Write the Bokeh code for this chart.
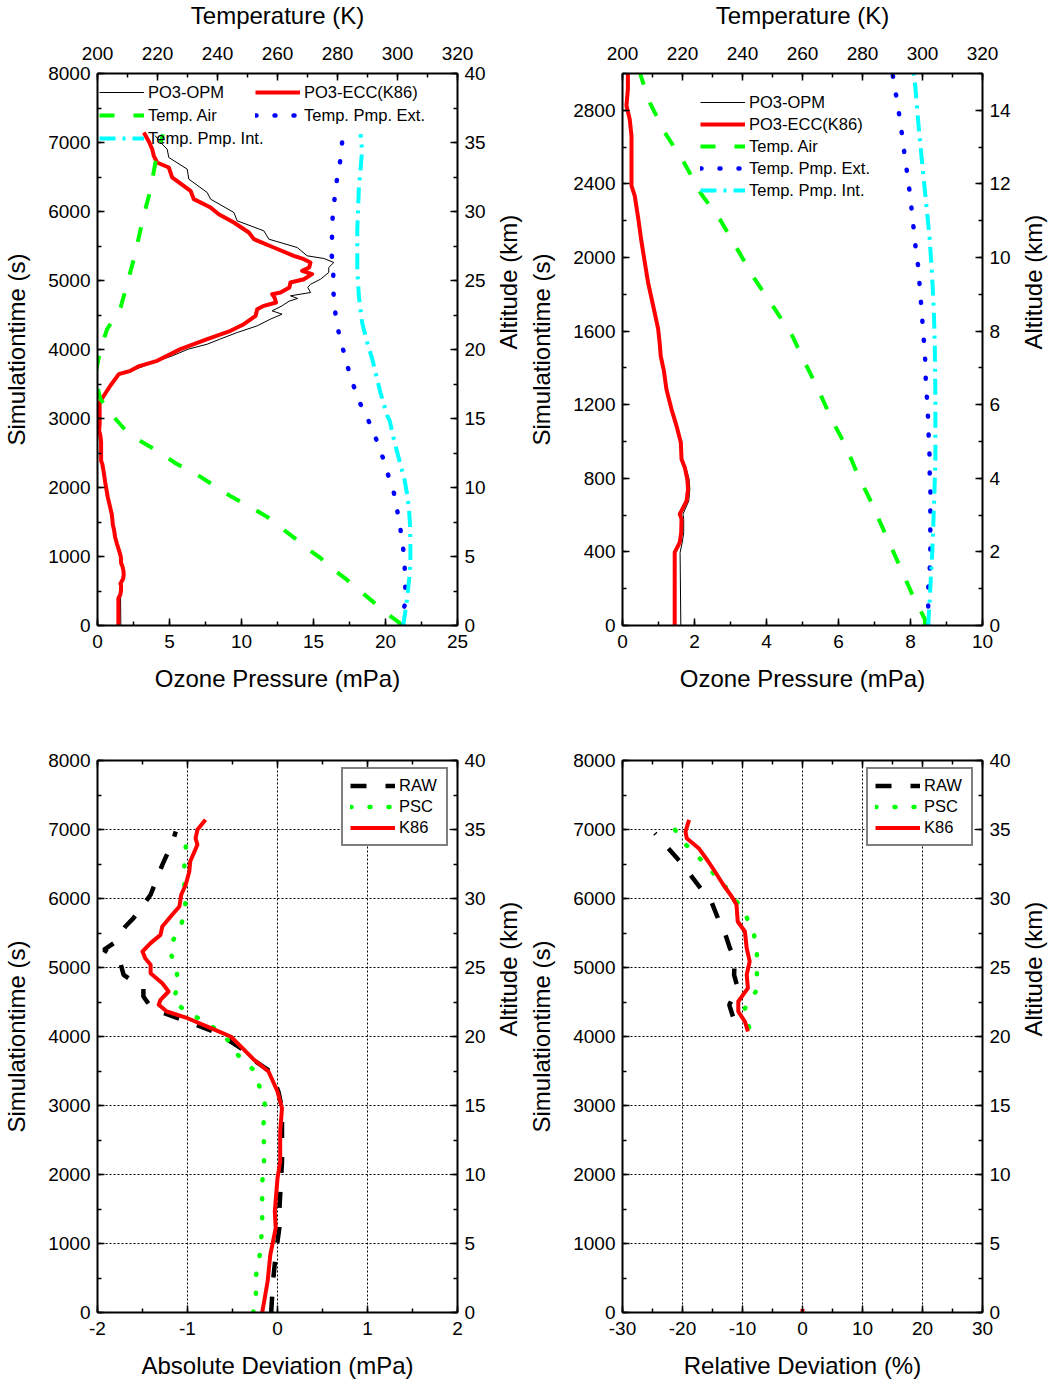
import math
import numpy as np
from bokeh.plotting import figure
from bokeh.models import (Range1d, LinearAxis, SingleIntervalTicker, Legend,
                          LegendItem, CustomJSTickFormatter)
from bokeh.layouts import column, row
from bokeh.embed import file_html
from bokeh.resources import INLINE

FONT = "Liberation Sans"
nan = float("nan")

# ---------------- ozone partial pressure (simulation time s, mPa) ----------------
ecc_time = [0, 397, 451, 505, 578, 605, 677, 741, 795, 859, 904, 995, 1085, 1176, 1284,
            1384, 1466, 1520, 1612, 1739, 1864, 1973, 2082, 2209, 2335, 2390, 2516, 2661,
            2752, 2825, 2915, 3000, 3232, 3329, 3478, 3643, 3691, 3760, 3836, 4005, 4150,
            4271, 4367, 4488, 4584, 4633, 4681, 4750, 4801, 4826, 4899, 4971, 5019, 5092,
            5140, 5188, 5261, 5309, 5358, 5478, 5599, 5696, 5841, 5961, 6058, 6179, 6300,
            6493, 6638, 6710, 6807, 6903, 7000, 7145]
ecc_o3 = [1.45, 1.45, 1.59, 1.63, 1.64, 1.59, 1.78, 1.82, 1.80, 1.73, 1.64, 1.62, 1.50, 1.36,
          1.22, 1.15, 1.06, 1.04, 0.99, 0.85, 0.71, 0.62, 0.53, 0.44, 0.34, 0.25, 0.25, 0.25,
          0.20, 0.11, 0.15, 0.15, 0.15, 0.44, 0.90, 1.48, 2.29, 2.90, 4.14, 5.76, 7.62, 9.24,
          10.16, 10.98, 11.09, 11.55, 12.40, 12.30, 12.13, 12.71, 13.33, 13.40, 14.33, 14.90,
          14.21, 14.70, 14.79, 14.33, 13.63, 12.24, 10.86, 10.51, 9.47, 8.42, 7.85, 6.69, 6.46,
          5.18, 4.95, 4.14, 3.91, 3.80, 3.60, 3.22]

opm_time = [0, 397, 451, 505, 578, 605, 677, 741, 795, 859, 904, 995, 1085, 1176, 1284,
            1384, 1466, 1520, 1612, 1739, 1864, 1973, 2082, 2209, 2335, 2390, 2516, 2661,
            2752, 2825, 2915, 3000, 3232, 3329, 3478, 3643, 3691, 3836, 3908, 4005, 4077,
            4150, 4246, 4343, 4440, 4512, 4560, 4633, 4700, 4740, 4778, 4826, 4900, 4946,
            5019, 5116, 5188, 5261, 5319, 5358, 5478, 5599, 5720, 5865, 5986, 6179, 6275,
            6469, 6614, 6783, 6903, 6976, 7100]
opm_o3 = [1.62, 1.60, 1.66, 1.70, 1.70, 1.68, 1.84, 1.87, 1.85, 1.76, 1.66, 1.63, 1.51, 1.37,
          1.23, 1.16, 1.07, 1.05, 1.00, 0.86, 0.72, 0.63, 0.54, 0.45, 0.35, 0.26, 0.26, 0.26,
          0.21, 0.12, 0.16, 0.16, 0.16, 0.45, 0.91, 1.52, 2.35, 4.20, 5.20, 6.30, 7.62, 8.50,
          9.70, 11.09, 12.01, 12.82, 12.13, 12.82, 13.30, 13.90, 13.40, 14.80, 14.60, 14.80,
          15.49, 16.06, 16.06, 16.41, 15.72, 14.56, 13.87, 11.90, 11.55, 9.70, 9.47, 7.85,
          7.62, 6.34, 6.23, 4.95, 4.84, 4.49, 4.00]

# ---------------- temperatures (simulation time s, K) ----------------
air_time = [0, 34, 179, 342, 505, 668, 813, 976, 1121, 1284, 1429, 1574, 1719, 1882, 2036,
            2209, 2344, 2525, 2679, 2842, 2978, 3280, 3449, 3550, 3700, 3900, 4150, 4294,
            4609, 4778, 5309, 5938, 6324, 6710, 7120]
air_temp = [300.8, 300.8, 296.3, 291.9, 287.4, 283.0, 278.6, 274.4, 269.7, 265.2, 260.8,
            256.6, 250.8, 244.1, 238.6, 232.4, 226.3, 220.2, 214.1, 209.1, 206.3, 201.0,
            200.0, 199.5, 199.6, 200.5, 202.1, 203.2, 207.7, 208.8, 212.1, 215.4, 217.7,
            219.3, 221.8]

ext_time = [0, 96, 197, 299, 397, 500, 603, 705, 806, 908, 1009, 1112, 1212, 1315, 1416,
            1516, 1620, 1719, 1822, 1924, 2027, 2130, 2230, 2332, 2435, 2535, 2638, 2738,
            2840, 2943, 3232, 3507, 3778, 4043, 4319, 4584, 4860, 5130, 5406, 5671, 5946,
            6217, 6493, 6758, 7033]
ext_temp = [301.9, 301.9, 301.9, 302.4, 302.6, 302.6, 302.6, 302.7, 302.4, 302.4, 302.1,
            301.9, 301.6, 301.1, 301.0, 300.6, 300.1, 299.7, 299.1, 298.8, 297.9, 297.2,
            296.6, 295.9, 295.1, 294.2, 293.4, 292.6, 291.6, 290.6, 287.4, 285.1, 283.2,
            281.6, 280.0, 279.1, 278.6, 278.6, 278.0, 278.2, 278.4, 279.1, 279.9, 281.0,
            281.6]

int_time = [0, 143, 415, 686, 904, 1230, 1520, 1701, 1901, 2100, 2281, 2462, 2643, 2788,
            2969, 3039, 3377, 3860, 4101, 4391, 4778, 5164, 5744, 6324, 6879, 7121]
int_temp = [301.9, 302.4, 303.3, 303.9, 304.3, 304.3, 304.1, 303.8, 303.2, 302.4, 301.3,
            300.2, 299.1, 298.3, 297.4, 296.6, 294.3, 291.6, 289.9, 288.2, 287.1, 286.6,
            286.6, 287.1, 288.2, 287.7]

# ---------------- absolute deviation from OPM (mPa) ----------------
raw_abs_time = [0, 449, 836, 1222, 1464, 1946, 2188, 2623, 2961, 3203, 3493, 3662, 3807,
                3975, 4072, 4217, 4338, 4387, 4450, 4580, 4700, 4780, 4894, 5039, 5150, 5256,
                5353, 5594, 5715, 6054, 6488, 6802, 6971]
raw_abs = [-0.07, -0.05, -0.02, 0.02, 0.02, 0.04, 0.05, 0.05, 0.05, 0.01, -0.08, -0.27,
           -0.38, -0.58, -0.71, -1.00, -1.26, -1.37, -1.42, -1.49, -1.49, -1.58, -1.71,
           -1.74, -1.80, -1.93, -1.82, -1.69, -1.60, -1.41, -1.28, -1.17, -1.13]

psc_abs_time = [0, 265, 532, 802, 1077, 1343, 1619, 1884, 2155, 2430, 2696, 2971, 3236,
                3507, 3758, 4000, 4207, 4338, 4517, 4764, 5014, 5280, 5532, 5797, 6068, 6343,
                6609, 6884, 7000]
psc_abs = [-0.27, -0.24, -0.24, -0.20, -0.18, -0.17, -0.17, -0.17, -0.15, -0.15, -0.16,
           -0.13, -0.19, -0.26, -0.46, -0.58, -0.79, -0.99, -1.16, -1.10, -1.13, -1.21,
           -1.10, -1.02, -1.03, -1.04, -1.03, -1.01, -1.00]

k86_abs_time = [0, 449, 836, 1222, 1464, 1946, 2188, 2623, 2961, 3203, 3493, 3662, 3807,
                4000, 4120, 4265, 4362, 4459, 4532, 4652, 4772, 4918, 5039, 5135, 5232, 5353,
                5473, 5594, 5764, 5884, 6054, 6199, 6391, 6536, 6778, 6874, 6995, 7140]
k86_abs = [-0.17, -0.11, -0.08, -0.02, -0.03, 0.00, 0.03, 0.03, 0.05, 0.00, -0.10, -0.26,
           -0.37, -0.52, -0.74, -1.00, -1.23, -1.32, -1.30, -1.21, -1.28, -1.41, -1.41,
           -1.47, -1.50, -1.41, -1.30, -1.28, -1.17, -1.09, -1.07, -1.02, -0.98, -0.97,
           -0.89, -0.91, -0.89, -0.80]

# ---------------- relative deviation from OPM (%) ----------------
raw_rel_time = [4290, 4459, 4700, 4894, 5135, 5280, 5570, 5715, 5957, 6126, 6391, 6536,
                6778, 6947]
raw_rel = [-11.6, -12.2, -10.8, -11.4, -11.3, -12.1, -13.2, -14.1, -15.2, -16.8, -19.1,
           -20.4, -22.9, -24.6]

psc_rel_time = [4135, 4406, 4677, 4952, 5217, 5488, 5764, 6029, 6304, 6570, 6802, 7053]
psc_rel = [-8.9, -9.6, -7.6, -7.6, -7.6, -8.1, -9.5, -11.5, -14.2, -17.0, -19.7, -21.7]

k86_rel_time = [0, 50, nan, 4072, 4217, 4362, 4507, 4700, 4894, 5087, 5280, 5522, 5667,
                5908, 6029, 6199, 6391, 6536, 6729, 6874, 6971, 7140]
k86_rel = [0.0, 0.0, nan, -9.1, -9.6, -10.7, -10.7, -9.1, -9.3, -8.8, -9.3, -9.6, -10.8,
           -11.0, -11.8, -13.2, -14.6, -15.7, -17.3, -19.3, -19.5, -18.9]

RED, GREEN, BLUE, CYAN, BLACK = "#ff0000", "#00ff00", "#0000ff", "#00ffff", "#000000"


def style_axis(ax, step, standoff, labels=True):
    ax.ticker = SingleIntervalTicker(interval=step, num_minor_ticks=2)
    ax.axis_line_width = 2
    ax.axis_line_color = BLACK
    ax.major_tick_in = 7
    ax.major_tick_out = 0
    ax.minor_tick_in = 4
    ax.minor_tick_out = 0
    ax.major_tick_line_width = 1.5
    ax.minor_tick_line_width = 1.5
    ax.major_tick_line_color = BLACK
    ax.minor_tick_line_color = BLACK
    ax.major_label_text_font = FONT
    ax.major_label_text_font_size = "19px"
    ax.major_label_text_color = BLACK
    ax.major_label_standoff = standoff
    # plain hyphen-minus for negative tick values
    ax.formatter = CustomJSTickFormatter(
        code="return tick.toFixed(0)" if labels else "return ''")
    return ax.ticker


def set_title(ax, text, standoff, flip=False):
    ax.axis_label = text
    ax.axis_label_text_font = FONT
    ax.axis_label_text_font_size = "24px"
    ax.axis_label_text_font_style = "normal"
    ax.axis_label_text_color = BLACK
    ax.axis_label_standoff = standoff
    if flip and "axis_label_orientation" in ax.properties():
        # read from bottom to top, like the left-hand title
        ax.axis_label_orientation = math.pi / 2


def make_panel(xr, yr, x_step, y_step, alt_max, alt_step, top_range=None, top_step=None,
               width=545, height=700, border_top=73, border_bottom=75, border_right=88,
               grid=False):
    p = figure(width=width, height=height, x_range=Range1d(*xr), y_range=Range1d(*yr),
               output_backend="svg", toolbar_location=None, tools="",
               min_border_left=97, min_border_right=border_right,
               min_border_top=border_top, min_border_bottom=border_bottom)
    p.outline_line_color = None
    p.background_fill_color = "white"
    p.border_fill_color = "white"

    p.extra_y_ranges = {"alt": Range1d(0, alt_max)}
    right = LinearAxis(y_range_name="alt")
    p.add_layout(right, "right")
    if top_range is not None:
        p.extra_x_ranges = {"temp": Range1d(*top_range)}
        top = LinearAxis(x_range_name="temp")
        p.add_layout(top, "above")
        style_axis(top, top_step, 14)
        set_title(top, "Temperature (K)", 15)
    else:
        top = LinearAxis()
        p.add_layout(top, "above")
        style_axis(top, x_step, 9, labels=False)

    xt = style_axis(p.below[0], x_step, 9)
    yt = style_axis(p.left[0], y_step, 7)
    style_axis(right, alt_step, 7)
    set_title(p.left[0], "Simulationtime (s)", 15)
    set_title(right, "Altitude (km)", 20, flip=True)

    if grid:
        p.xgrid.ticker = xt
        p.ygrid.ticker = yt
        for g in (p.xgrid, p.ygrid):
            g.grid_line_color = BLACK
            g.grid_line_width = 1
            g.grid_line_dash = "2 2"
            g.grid_line_alpha = 1.0
    else:
        p.xgrid.visible = False
        p.ygrid.visible = False
    return p


def style_legend(leg, boxed=False):
    leg.label_text_font = FONT
    leg.label_text_font_size = "16.5px"
    leg.label_text_color = BLACK
    leg.glyph_width = 45
    leg.label_standoff = 4
    leg.margin = 0
    if boxed:
        leg.glyph_height = 19
        leg.label_height = 19
        leg.label_width = 40
        leg.spacing = 2
        leg.padding = 7
        leg.border_line_color = BLACK
        leg.border_line_width = 2
        leg.background_fill_color = "white"
        leg.background_fill_alpha = 1.0
    else:
        leg.glyph_height = 20
        leg.label_height = 20
        leg.spacing = 3
        leg.padding = 0
        leg.border_line_color = None
        leg.background_fill_alpha = 0.0


def draw_profiles(p):
    r_opm = p.line(opm_o3, opm_time, line_color=BLACK, line_width=1)
    r_ecc = p.line(ecc_o3, ecc_time, line_color=RED, line_width=4, line_join="round")
    r_air = p.line(air_temp, air_time, x_range_name="temp", line_color=GREEN,
                   line_width=4, line_dash="15 19")
    r_ext = p.line(ext_temp, ext_time, x_range_name="temp", line_color=BLUE,
                   line_width=4.5, line_dash="1 18", line_cap="round")
    r_int = p.line(int_temp, int_time, x_range_name="temp", line_color=CYAN,
                   line_width=4, line_dash="16 7 3 7")
    return r_opm, r_ecc, r_air, r_ext, r_int


def draw_deviation(p, raw_t, raw_v, psc_t, psc_v, k_t, k_v):
    r_raw = p.line(np.array(raw_v), np.array(raw_t), line_color=BLACK, line_width=4.5,
                   line_dash="16 19")
    r_psc = p.line(np.array(psc_v), np.array(psc_t), line_color=GREEN, line_width=4.5,
                   line_dash="1 18", line_cap="round")
    r_k = p.line(np.array(k_v, dtype=float), np.array(k_t, dtype=float), line_color=RED,
                 line_width=4, line_join="round")
    leg = Legend(items=[LegendItem(label="RAW", renderers=[r_raw]),
                        LegendItem(label="PSC", renderers=[r_psc]),
                        LegendItem(label="K86", renderers=[r_k])],
                 location=(244, 466))
    style_legend(leg, boxed=True)
    p.add_layout(leg)


# ---- upper left: full ascent (its right margin lies under the next panel) ----
p1 = make_panel((0, 25), (0, 8000), 5, 1000, 40, 5, top_range=(200, 320), top_step=20,
                height=707, border_top=80)
set_title(p1.below[0], "Ozone Pressure (mPa)", 14)
r_opm, r_ecc, r_air, r_ext, r_int = draw_profiles(p1)
leg_a = Legend(items=[LegendItem(label="PO3-OPM", renderers=[r_opm]),
                      LegendItem(label="Temp. Air", renderers=[r_air]),
                      LegendItem(label="Temp. Pmp. Int.", renderers=[r_int])],
               location=(2, 477))
leg_b = Legend(items=[LegendItem(label="PO3-ECC(K86)", renderers=[r_ecc]),
                      LegendItem(label="Temp. Pmp. Ext.", renderers=[r_ext])],
               location=(158, 500))
for lg in (leg_a, leg_b):
    style_legend(lg)
    p1.add_layout(lg)

# ---- upper right: troposphere ----
p2 = make_panel((0, 10), (0, 3000), 2, 400, 15, 2, top_range=(200, 320), top_step=20,
                width=538, height=707, border_top=80, border_right=81)
p2.margin = (0, 0, 0, -20)
set_title(p2.below[0], "Ozone Pressure (mPa)", 14)
r_opm2, r_ecc2, r_air2, r_ext2, r_int2 = draw_profiles(p2)
leg_c = Legend(items=[LegendItem(label="PO3-OPM", renderers=[r_opm2]),
                      LegendItem(label="PO3-ECC(K86)", renderers=[r_ecc2]),
                      LegendItem(label="Temp. Air", renderers=[r_air2]),
                      LegendItem(label="Temp. Pmp. Ext.", renderers=[r_ext2]),
                      LegendItem(label="Temp. Pmp. Int.", renderers=[r_int2])],
               location=(78, 425))
style_legend(leg_c)
leg_c.spacing = 2
p2.add_layout(leg_c)

# ---- lower left: absolute deviation ----
p3 = make_panel((-2, 2), (0, 8000), 1, 1000, 40, 5, height=684, border_top=60,
                border_bottom=72, grid=True)
set_title(p3.below[0], "Absolute Deviation (mPa)", 14)
draw_deviation(p3, raw_abs_time, raw_abs, psc_abs_time, psc_abs, k86_abs_time, k86_abs)

# ---- lower right: relative deviation ----
p4 = make_panel((-30, 30), (0, 8000), 10, 1000, 40, 5, width=538, height=684,
                border_top=60, border_bottom=72, border_right=81, grid=True)
p4.margin = (0, 0, 0, -20)
set_title(p4.below[0], "Relative Deviation (%)", 14)
draw_deviation(p4, raw_rel_time, raw_rel, psc_rel_time, psc_rel, k86_rel_time, k86_rel)

top_row = row(p1, p2)
top_row.margin = (-7, 0, 0, 0)
layout = column(top_row, row(p3, p4), width=1050, height=1384,
                styles={"overflow": "hidden"})
open("out.html", "w").write(file_html(layout, INLINE, title="Ozone sonde comparison"))
